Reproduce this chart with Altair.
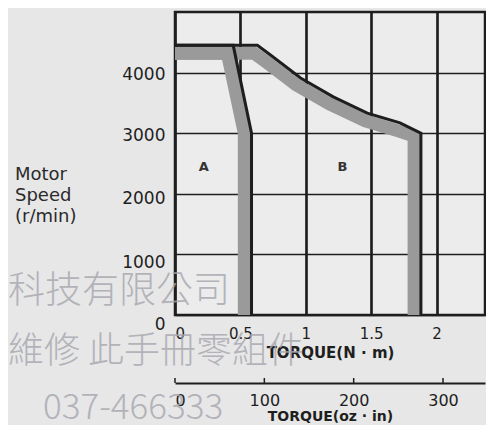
import altair as alt
import pandas as pd

# Boundary A (continuous zone), torque in N·m, speed in r/min
a_torque = [0.0, 0.445, 0.585, 0.585]
a_speed = [4450, 4450, 3000, 0]
# Boundary B (intermittent zone)
b_torque = [0.0, 0.63, 0.73, 0.96, 1.21, 1.47, 1.72, 1.88, 1.88]
b_speed = [4450, 4450, 4290, 3910, 3600, 3330, 3170, 3000, 0]
# Shaded bands along the inner side of each boundary
a_band_torque = [0.0, 0.40, 0.53, 0.53]
a_band_speed = [4320, 4320, 3000, 0]
b_band_torque = [0.0, 0.605, 0.69, 0.924, 1.18, 1.447, 1.70, 1.828, 1.828]
b_band_speed = [4320, 4320, 4186, 3802, 3482, 3211, 3043, 2954, 0]

zone_labels = ["A", "B"]
zone_torque = [0.22, 1.28]
zone_speed = [2450, 2450]

nm_ticks = [0, 0.5, 1, 1.5, 2]
speed_ticks = [0, 1000, 2000, 3000, 4000]
oz_ticks = [0, 100, 200, 300]

def path(xs, ys):
    return pd.DataFrame({"torque": xs, "speed": ys, "i": list(range(len(xs)))})

labels = pd.DataFrame({"t": zone_labels, "torque": zone_torque, "speed": zone_speed})
oz = pd.DataFrame({"oz": oz_ticks})

INK = "#1e1e1e"
BAND = "#9a9a9a"
x_enc = alt.X(
    "torque:Q",
    scale=alt.Scale(domain=[0, 2.37], nice=False, zero=False),
    axis=alt.Axis(
        values=nm_ticks, format="~g", title="TORQUE(N · m)", grid=True,
        gridColor=INK, gridWidth=1.6, gridOpacity=1, domain=False, ticks=False,
        labelPadding=11, labelFont="DejaVu Sans", labelFontSize=15, labelColor=INK,
        titleFont="DejaVu Sans", titleFontSize=15, titleFontWeight="bold",
        titleColor=INK, titlePadding=4,
    ),
)
y_enc = alt.Y(
    "speed:Q",
    scale=alt.Scale(domain=[0, 5000], nice=False),
    axis=alt.Axis(
        values=speed_ticks, format="d", title=None, grid=True, gridColor=INK,
        gridWidth=1.6, gridOpacity=1, domain=False, ticks=False, labelPadding=10,
        labelFont="DejaVu Sans", labelFontSize=17, labelColor=INK,
        labelOffset={
            "condition": [
                {"test": "datum.value == 0", "value": 9},
                {"test": "datum.value == 1000", "value": 8},
                {"test": "datum.value == 2000", "value": 5},
            ],
            "value": 2,
        },
    ),
)

def band(xs, ys):
    return alt.Chart(path(xs, ys)).mark_line(
        color=BAND, strokeWidth=13, strokeJoin="round"
    ).encode(x=x_enc, y=y_enc, order="i:Q")

def boundary(xs, ys):
    return alt.Chart(path(xs, ys)).mark_line(
        color=INK, strokeWidth=3, strokeJoin="miter"
    ).encode(x=x_enc, y=y_enc, order="i:Q")

label_layer = alt.Chart(labels).mark_text(
    font="DejaVu Sans", fontSize=13, fontWeight="bold", color="#333"
).encode(x=x_enc, y=y_enc, text="t:N")

one = pd.DataFrame({"k": [0]})
speed_title = alt.Chart(one).mark_text(
    text=["Motor", "Speed", "(r/min)"], align="left", baseline="middle",
    font="DejaVu Sans", fontSize=18, lineHeight=21, color="#2a2a2a",
).encode(x=alt.value(-160), y=alt.value(163))

wm_font = "Noto Sans CJK TC"
wm_color = "#a6a6ae"
wm1 = alt.Chart(one).mark_text(
    text="科技有限公司", align="left", baseline="middle", font=wm_font,
    fontSize=37, fontWeight=300, color=wm_color, opacity=0.8,
).encode(x=alt.value(-167), y=alt.value(280))
wm2 = alt.Chart(one).mark_text(
    text="維修  此手冊零組件", align="left", baseline="middle", font=wm_font,
    fontSize=36, fontWeight=300, color=wm_color, opacity=0.8,
).encode(x=alt.value(-167), y=alt.value(340))
wm3 = alt.Chart(one).mark_text(
    text="037-466333", align="left", baseline="middle", font=wm_font,
    fontSize=35, fontWeight=300, color=wm_color, opacity=0.8,
).encode(x=alt.value(-132), y=alt.value(396))

oz_layer = alt.Chart(oz).mark_rule(color=INK, strokeWidth=1.5).encode(
    x=alt.X(
        "oz:Q",
        scale=alt.Scale(domain=[0, 347], nice=False, zero=False),
        axis=alt.Axis(
            orient="bottom", offset=68, values=oz_ticks, title="TORQUE(oz · in)",
            grid=False, ticks=False, domain=True, domainColor=INK, domainWidth=2,
            labelPadding=9, labelFont="DejaVu Sans", labelFontSize=16, labelColor=INK,
            titleFont="DejaVu Sans", titleFontSize=14, titleFontWeight="bold",
            titleColor=INK, titlePadding=1,
        ),
    ),
    y=alt.value(366),
    y2=alt.value(371),
)

chart = (
    alt.layer(
        band(b_band_torque, b_band_speed), band(a_band_torque, a_band_speed),
        boundary(b_torque, b_speed), boundary(a_torque, a_speed),
        label_layer, speed_title, wm1, wm2, wm3, oz_layer,
    )
    .resolve_scale(x="independent")
    .properties(
        width=310, height=303, autosize="none",
        padding={"left": 167, "top": 4, "right": 1, "bottom": 110},
        background="#e7e7e7",
    )
    .configure_view(fill="#ececec", stroke=INK, strokeWidth=2.5)
)

chart.save("out.html", embed_options={"renderer": "svg", "actions": False})
